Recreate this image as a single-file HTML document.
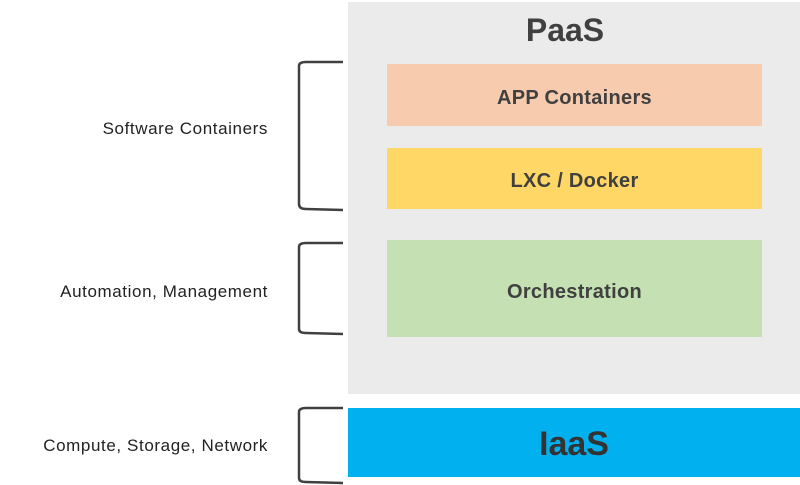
<!DOCTYPE html>
<html><head><style>
body{margin:0;width:800px;height:485px;background:#fff;position:relative;overflow:hidden;font-family:"Liberation Sans","Noto Sans CJK KR",sans-serif;}
.a{position:absolute;}
.box{position:absolute;left:387px;width:375px;display:flex;align-items:center;justify-content:center;font-weight:bold;font-size:20px;color:#404040;padding-top:6px;box-sizing:border-box;letter-spacing:0.3px}
.lbl{position:absolute;right:532px;font-size:17px;letter-spacing:0.6px;color:#222;white-space:nowrap;}
</style></head><body>
<div class="a" style="left:348px;top:2px;width:452px;height:392px;background:#ebebeb"></div>
<div class="a" style="left:348px;top:12px;width:434px;text-align:center;font-size:32px;font-weight:bold;color:#404040">PaaS</div>
<div class="box" style="top:64px;height:62px;background:#f7cbad">APP Containers</div>
<div class="box" style="top:148px;height:61px;background:#fed766">LXC / Docker</div>
<div class="box" style="top:240px;height:97px;padding-top:8px;background:#c5e0b3">Orchestration</div>
<div class="a" style="left:348px;top:408px;width:452px;height:69px;padding-top:4px;box-sizing:border-box;background:#00b0ef;display:flex;align-items:center;justify-content:center;font-weight:bold;font-size:34px;color:#333">IaaS</div>
<svg class="a" style="left:0;top:0" width="800" height="485">
<g fill="none" stroke="#404040" stroke-width="2.5">
<path d="M343 62 L306 62 Q299 62 299 66 L299 204 Q299 209 306 209 L343 210"/>
<path d="M343 243 L306 243 Q299 243 299 247 L299 329 Q299 333 306 333 L343 334"/>
<path d="M343 408 L306 408 Q299 408 299 412 L299 478 Q299 482 306 482 L343 483"/>
</g></svg>
<div class="lbl" style="top:119px">Software Containers</div>
<div class="lbl" style="top:282px">Automation, Management</div>
<div class="lbl" style="top:436px">Compute, Storage, Network</div>
</body></html>
